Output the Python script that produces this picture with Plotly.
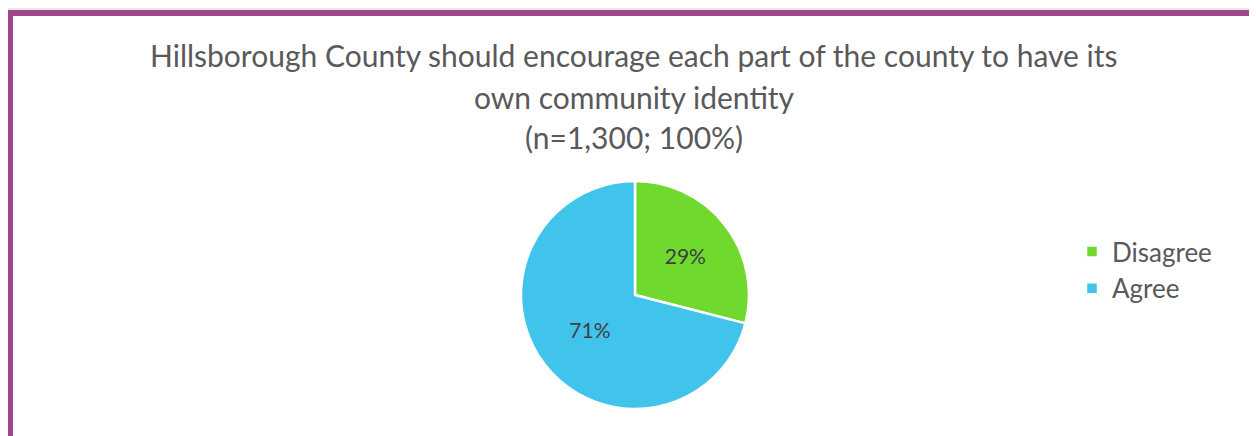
import plotly.graph_objects as go

labels = ["Disagree", "Agree"]
values = [29, 71]
colors = ["#70D92E", "#40C4EC"]
title_lines = [
    "Hillsborough County should encourage each part of the county to have its",
    "own community identity",
    "(n=1,300; 100%)",
]

# The page body adds an 8px offset; layout below is given in window pixels.
WIN_W, WIN_H = 1257, 436
OFF = 8
W, H = WIN_W - OFF, WIN_H - OFF


def px(x):
    return (x - OFF) / W


def py(y):
    return 1 - (y - OFF) / H


cx, cy, r = 635, 295, 114
FONT = "Lato"
GREY = "#595959"
PURPLE = "#A0468A"

fig = go.Figure(go.Pie(
    labels=labels, values=values, sort=False, direction="clockwise", rotation=0,
    marker=dict(colors=colors, line=dict(color="white", width=2.5)),
    texttemplate="%{percent:.0%}", textposition="inside",
    insidetextorientation="horizontal",
    textfont=dict(family=FONT, size=21, color="#404040"),
    domain=dict(x=[px(cx - r), px(cx + r)], y=[py(cy + r), py(cy - r)]),
    hoverinfo="label+percent",
))

annotations = []
for line, yy in zip(title_lines, [55, 97, 137]):
    annotations.append(dict(
        text=line, x=px(634), y=py(yy), xref="paper", yref="paper",
        xanchor="center", yanchor="middle", showarrow=False,
        font=dict(family=FONT, size=30, color=GREY),
    ))

shapes = [
    dict(type="line", xref="paper", yref="paper", x0=0, x1=1, y0=py(9), y1=py(9),
         line=dict(color="#d0d0d0", width=1)),
    dict(type="line", xref="paper", yref="paper", x0=px(7), x1=px(1254), y0=py(13), y1=py(13),
         line=dict(color=PURPLE, width=6)),
    dict(type="line", xref="paper", yref="paper", x0=px(10), x1=px(10), y0=py(10), y1=-0.05,
         line=dict(color=PURPLE, width=6)),
    dict(type="line", xref="paper", yref="paper", x0=px(1253), x1=px(1253), y0=py(13), y1=-0.05,
         line=dict(color=PURPLE, width=2)),
]

fig.update_layout(
    width=W, height=H,
    margin=dict(l=0, r=0, t=0, b=0),
    paper_bgcolor="white", plot_bgcolor="white",
    annotations=annotations, shapes=shapes,
    showlegend=True,
    legend=dict(x=px(1072), y=py(228), xanchor="left", yanchor="top",
                font=dict(family=FONT, size=26, color=GREY), bgcolor="rgba(0,0,0,0)"),
)

fig.write_html("out.html")
